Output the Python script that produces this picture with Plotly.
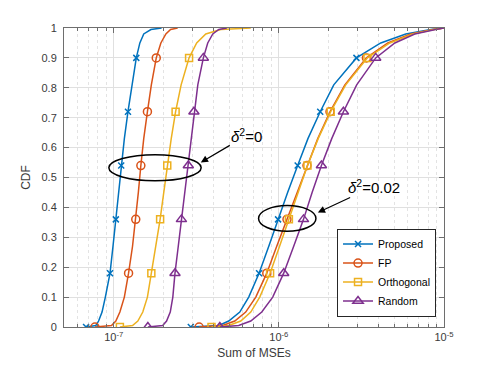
import plotly.graph_objects as go

cdf_levels = [0, 0.005, 0.02, 0.05, 0.1, 0.18, 0.27, 0.36, 0.45, 0.54,
              0.63, 0.72, 0.81, 0.9, 0.95, 0.98, 0.995, 1.0]
marker_idx = [0, 5, 7, 9, 11, 13]

# delta^2 = 0
prop_d0 = [6.8e-8, 7.8e-8, 8.1e-8, 8.5e-8, 8.9e-8, 9.5e-8, 9.9e-8, 1.03e-7, 1.07e-7,
           1.11e-7, 1.16e-7, 1.22e-7, 1.29e-7, 1.37e-7, 1.44e-7, 1.52e-7, 1.68e-7, 1.95e-7]
fp_d0 = [7.7e-8, 9.7e-8, 1.03e-7, 1.09e-7, 1.16e-7, 1.23e-7, 1.30e-7, 1.36e-7, 1.41e-7,
         1.46e-7, 1.52e-7, 1.60e-7, 1.69e-7, 1.81e-7, 1.93e-7, 2.07e-7, 2.21e-7, 2.44e-7]
orth_d0 = [1.09e-7, 1.30e-7, 1.40e-7, 1.50e-7, 1.60e-7, 1.69e-7, 1.81e-7, 1.91e-7, 2.01e-7,
           2.11e-7, 2.23e-7, 2.37e-7, 2.56e-7, 2.86e-7, 3.18e-7, 3.61e-7, 4.45e-7, 6.76e-7]
rand_d0 = [1.61e-7, 1.98e-7, 2.09e-7, 2.20e-7, 2.28e-7, 2.35e-7, 2.46e-7, 2.57e-7, 2.69e-7,
           2.83e-7, 2.95e-7, 3.06e-7, 3.23e-7, 3.49e-7, 3.71e-7, 3.98e-7, 4.33e-7, 4.84e-7]

# delta^2 = 0.02
prop_d2 = [2.93e-7, 4.33e-7, 4.97e-7, 5.80e-7, 6.57e-7, 7.59e-7, 8.69e-7, 9.89e-7, 1.13e-6,
           1.30e-6, 1.50e-6, 1.78e-6, 2.15e-6, 2.95e-6, 4.14e-6, 5.87e-6, 8.32e-6, 1.0e-5]
fp_d2 = [3.29e-7, 4.57e-7, 5.41e-7, 6.30e-7, 7.25e-7, 8.45e-7, 9.71e-7, 1.12e-6, 1.28e-6,
         1.48e-6, 1.72e-6, 2.04e-6, 2.51e-6, 3.39e-6, 4.57e-6, 6.29e-6, 8.55e-6, 1.0e-5]
orth_d2 = [3.91e-7, 4.97e-7, 5.88e-7, 6.76e-7, 7.66e-7, 8.85e-7, 1.01e-6, 1.15e-6, 1.31e-6,
           1.49e-6, 1.73e-6, 2.06e-6, 2.54e-6, 3.44e-6, 4.70e-6, 6.47e-6, 8.7e-6, 1.0e-5]
rand_d2 = [4.39e-7, 5.71e-7, 6.76e-7, 7.88e-7, 9.18e-7, 1.07e-6, 1.23e-6, 1.41e-6, 1.59e-6,
           1.81e-6, 2.09e-6, 2.46e-6, 2.96e-6, 3.86e-6, 5.04e-6, 6.65e-6, 8.9e-6, 1.0e-5]

series = [
    ("Proposed", prop_d0, prop_d2, "#0072BD", "x-thin-open", 6),
    ("FP", fp_d0, fp_d2, "#D95319", "circle-open", 8),
    ("Orthogonal", orth_d0, orth_d2, "#EDB120", "square-open", 7),
    ("Random", rand_d0, rand_d2, "#7E2F8E", "triangle-up-open", 9),
]

FONT = "Liberation Sans, Arial, sans-serif"
AXIS = "#6e6e6e"
TEXT = "#3a3a3a"
fig = go.Figure()

for name, d0, d2, color, symbol, size in series:
    xs = d0 + [None] + d2
    ys = cdf_levels + [None] + cdf_levels
    fig.add_trace(go.Scatter(x=xs, y=ys, mode="lines", showlegend=False,
                             line=dict(color=color, width=1.5)))
    mx = [d0[i] for i in marker_idx] + [d2[i] for i in marker_idx]
    my = [cdf_levels[i] for i in marker_idx] * 2
    fig.add_trace(go.Scatter(x=mx, y=my, mode="markers", showlegend=False,
                             marker=dict(symbol=symbol, size=size, color=color,
                                         line=dict(color=color, width=1.5))))
    fig.add_trace(go.Scatter(x=[None], y=[None], mode="lines+markers", name=name,
                             line=dict(color=color, width=1.5),
                             marker=dict(symbol=symbol, size=size, color=color,
                                         line=dict(color=color, width=1.5))))

minor_vals = [m * 10.0 ** e for e in (-8, -7, -6) for m in range(2, 10)]

fig.update_xaxes(
    type="log", range=[-7.301, -5],
    tickvals=[1e-7, 1e-6, 1e-5],
    ticktext=["10<sup>-7</sup>", "10<sup>-6</sup>", "10<sup>-5</sup>"],
    ticks="inside", ticklen=5, tickcolor=AXIS,
    showline=True, linecolor=AXIS, linewidth=1, mirror="allticks",
    showgrid=True, gridcolor="#e0e0e0", gridwidth=1,
    minor=dict(tickvals=minor_vals, ticks="inside", ticklen=3, tickcolor=AXIS,
               showgrid=True, gridcolor="#e3e3e3", griddash="dot", gridwidth=1),
    title=dict(text="Sum of MSEs", font=dict(size=12, color=TEXT), standoff=6),
    tickfont=dict(size=11, color=TEXT),
    zeroline=False,
)
fig.update_yaxes(
    range=[0, 1], dtick=0.1, tickformat="~g",
    ticks="inside", ticklen=5, tickcolor=AXIS,
    showline=True, linecolor=AXIS, linewidth=1, mirror="allticks",
    showgrid=True, gridcolor="#e0e0e0", gridwidth=1,
    title=dict(text="CDF", font=dict(size=12, color=TEXT), standoff=8),
    tickfont=dict(size=11, color=TEXT),
    ticklabelstandoff=4,
    zeroline=False,
)

ellipse = dict(type="circle", xref="paper", yref="paper",
               line=dict(color="black", width=1.5))
fig.add_shape(**ellipse, x0=0.118, x1=0.361, y0=0.489, y1=0.576)
fig.add_shape(**ellipse, x0=0.512, x1=0.663, y0=0.320, y1=0.406)

# labels with arrows pointing at the ellipses
label = dict(xref="paper", yref="paper", showarrow=True,
             arrowhead=2, arrowsize=1.2, arrowwidth=1.2, arrowcolor="black",
             font=dict(family=FONT, size=15, color="black"))
fig.add_annotation(**label, x=0.36, y=0.5505, ax=46, ay=-27,
                   text="<i>δ</i><sup>2</sup>=0")
fig.add_annotation(**label, x=0.668, y=0.383, ax=56, ay=-26,
                   text="<i>δ</i><sup>2</sup>=0.02")

fig.update_layout(
    width=491, height=368,
    margin=dict(l=56, r=55, t=20, b=49),
    paper_bgcolor="white", plot_bgcolor="white",
    font=dict(family=FONT, color=TEXT),
    legend=dict(x=0.979, y=0.035, xanchor="right", yanchor="bottom",
                bgcolor="white", bordercolor="#262626", borderwidth=1,
                font=dict(size=10.5, color="black"), tracegroupgap=0,
                itemwidth=30),
)

fig.write_html("out.html")
